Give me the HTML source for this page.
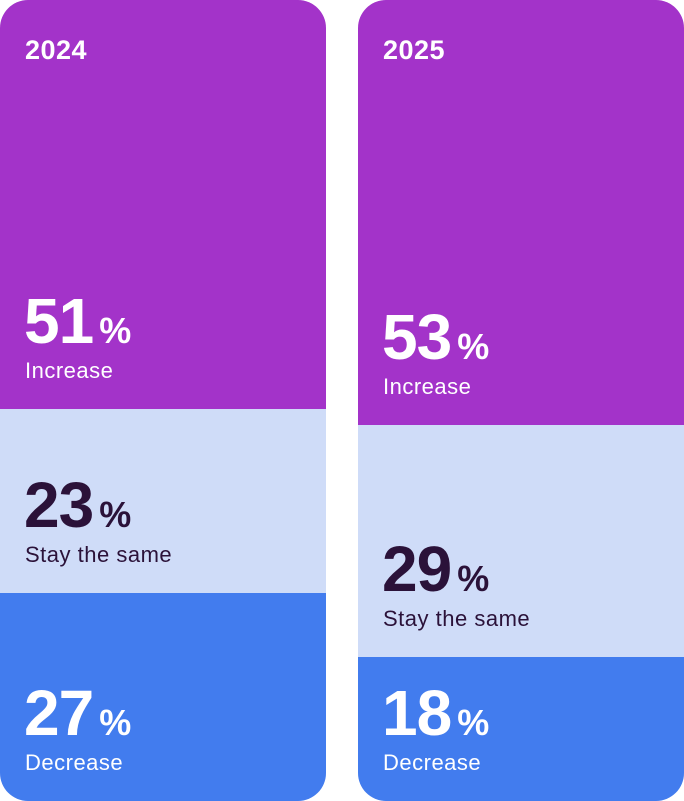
<!DOCTYPE html>
<html><head><meta charset="utf-8">
<style>
html,body{margin:0;padding:0;background:#fff;width:684px;height:801px;overflow:hidden}
body{font-family:"Liberation Sans",sans-serif;position:relative}
.col{position:absolute;top:0;width:326px;height:801px;border-radius:28px;overflow:hidden}
.seg{position:absolute;left:0;width:100%}
.year{position:absolute;left:25px;top:35px;font-size:27px;font-weight:bold;color:#fff;z-index:2;letter-spacing:0.5px}
.val{position:absolute;left:24px;bottom:56px;font-size:64px;font-weight:bold;line-height:1;letter-spacing:-1px}
.val span{font-size:36px;margin-left:6px}
.lab{position:absolute;left:25px;bottom:27px;font-size:22px;line-height:1;letter-spacing:0.5px}
</style></head><body>
<div id="c0" class="col" style="left:0"><div class="year">2024</div></div>
<div id="c1" class="col" style="left:358px"><div class="year">2025</div></div>
<script>
const years=["2024","2025"];
const categories=["Increase","Stay the same","Decrease"];
const values2024=[51,23,27];
const values2025=[53,29,18];
const series=[values2024,values2025];
const colors=["#A333C9","#CFDCF8","#427CEE"];
const textColors=["#ffffff","#2B1239","#ffffff"];
const H=801;
series.forEach((vals,ci)=>{
  const col=document.getElementById('c'+ci);
  let y=0;
  vals.forEach((v,i)=>{
    const seg=document.createElement('div');
    seg.className='seg';
    
    
    const h=i===vals.length-1?H-y:Math.round(v/100*H);
    seg.style.top=y+'px';seg.style.height=h+'px';
    seg.style.background=colors[i];seg.style.color=textColors[i];
    y+=h;
    const val=document.createElement('div');
    val.className='val';
    
    
    val.innerHTML=v+'<span>%</span>';
    const lab=document.createElement('div');
    lab.className='lab';
    
    
    lab.textContent=categories[i];
    seg.appendChild(val);seg.appendChild(lab);
    col.appendChild(seg);
  });
});
</script>
</body></html>
